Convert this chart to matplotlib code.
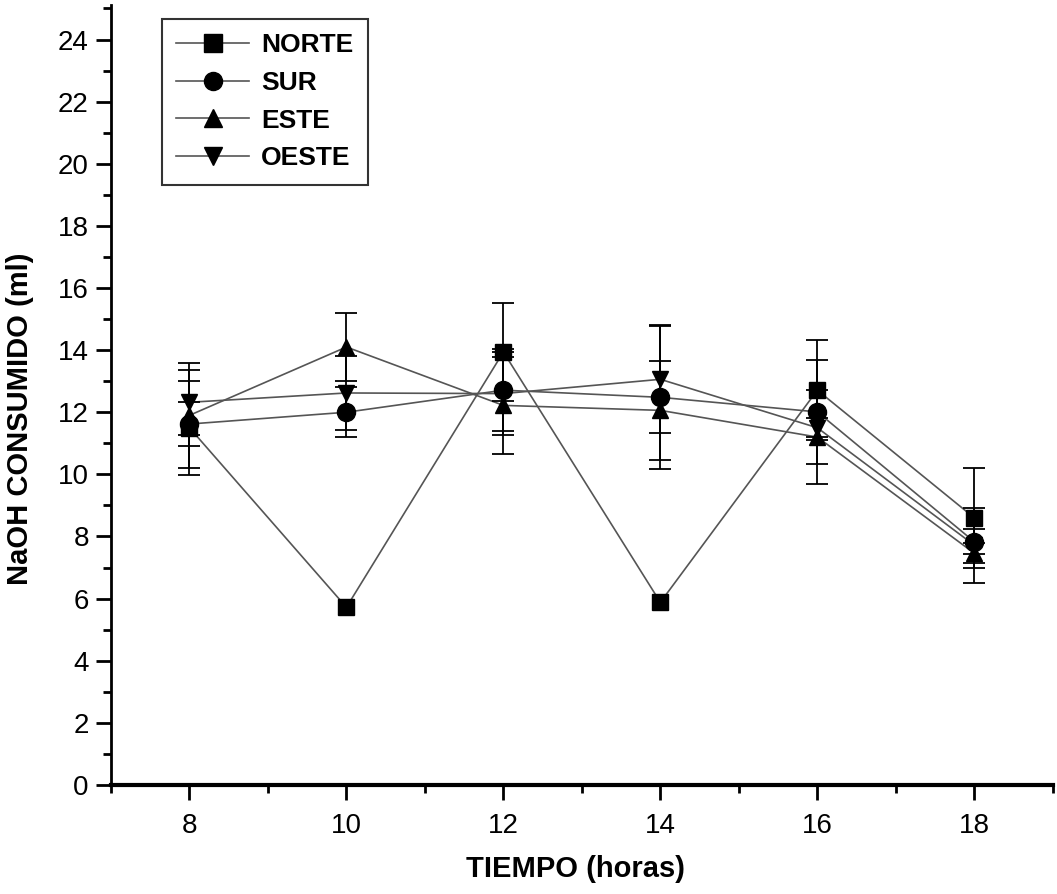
import matplotlib
matplotlib.use("Agg")
import matplotlib.pyplot as plt
from matplotlib.ticker import MultipleLocator

plt.rcParams['font.family'] = ['Liberation Sans', 'DejaVu Sans']

tiempo = [8, 10, 12, 14, 16, 18]
series = ["NORTE", "SUR", "ESTE", "OESTE"]
norte = [11.5, 5.72, 13.94, 5.88, 12.71, 8.6]
norte_err = [1.52, 0.0, 1.58, 0.0, 1.61, 1.62]
sur = [11.62, 12.0, 12.71, 12.48, 12.01, 7.83]
sur_err = [0.7, 0.8, 1.32, 2.32, 1.68, 0.4]
este = [11.9, 14.1, 12.22, 12.06, 11.2, 7.46]
este_err = [1.7, 1.1, 1.55, 1.6, 1.5, 0.33]
oeste = [12.32, 12.62, 12.6, 13.06, 11.5, 7.72]
oeste_err = [1.05, 1.2, 1.34, 1.72, 0.3, 1.21]

markers = ['s', 'o', '^', 'v']
data = [(norte, norte_err), (sur, sur_err), (este, este_err), (oeste, oeste_err)]

fig = plt.figure(figsize=(10.57, 8.94), dpi=100)
ax = fig.add_axes([0.105, 0.122, 0.891, 0.872])

for name, m, (vals, errs) in zip(series, markers, data):
    ax.plot(tiempo, vals, color='#555555', lw=1.2, zorder=2)
    xs = [x for x, e in zip(tiempo, errs) if e > 0]
    ys = [v for v, e in zip(vals, errs) if e > 0]
    es = [e for e in errs if e > 0]
    ax.errorbar(xs, ys, yerr=es, fmt='none', ecolor='black',
                elinewidth=1.3, capsize=8, capthick=1.3, zorder=3)
    ax.plot(tiempo, vals, linestyle='none', marker=m, color='black',
            markersize=12 if m != 'o' else 13, zorder=4)
    ax.plot([], [], color='#555555', lw=1.2, marker=m, markersize=13,
            markerfacecolor='black', markeredgecolor='black', label=name)

ax.set_xlim(7, 19)
ax.set_ylim(0, 25.1)
ax.set_xticks([8, 10, 12, 14, 16, 18])
ax.xaxis.set_minor_locator(MultipleLocator(1))
ax.yaxis.set_major_locator(MultipleLocator(2))
ax.yaxis.set_minor_locator(MultipleLocator(1))

for s in ['top', 'right']:
    ax.spines[s].set_visible(False)
ax.spines['left'].set_linewidth(2)
ax.spines['bottom'].set_linewidth(3)

ax.tick_params(axis='both', which='major', direction='out', length=11, width=2,
               labelsize=20, pad=5)
ax.tick_params(axis='both', which='minor', direction='out', length=6, width=2)
ax.tick_params(axis='x', which='major', pad=9)

ax.set_xlabel('TIEMPO (horas)', fontsize=21, fontweight='bold')
ax.set_ylabel('NaOH CONSUMIDO (ml)', fontsize=21, fontweight='bold')
ax.xaxis.set_label_coords(0.493, -0.09)
ax.yaxis.set_label_coords(-0.082, 0.47)

leg = ax.legend(loc='upper left', bbox_to_anchor=(0.054, 0.983), frameon=True,
                fancybox=False, edgecolor='black', prop={'size': 19, 'weight': 'bold'},
                handlelength=2.75, handletextpad=0.45, labelspacing=0.52,
                borderpad=0.55, borderaxespad=0.0)
leg.get_frame().set_linewidth(1.5)

fig.savefig('out.png', dpi=100)
